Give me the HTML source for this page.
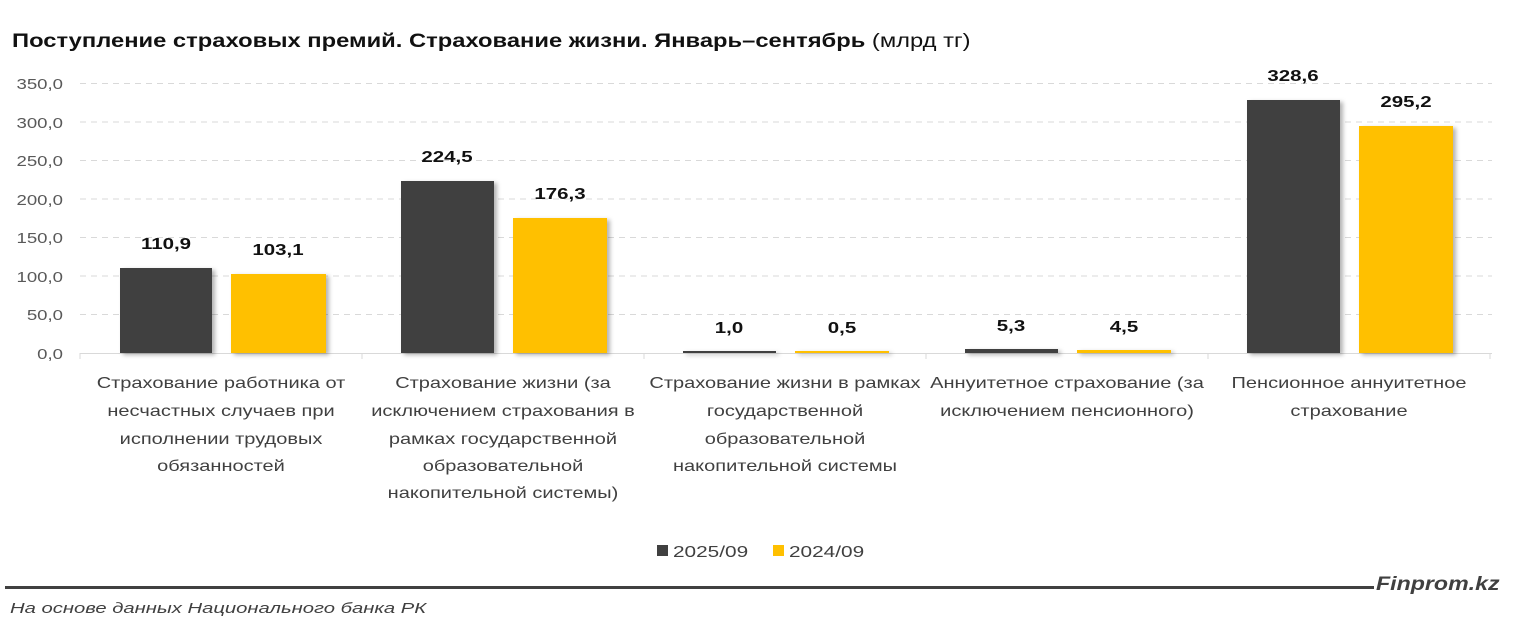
<!DOCTYPE html>
<html><head><meta charset="utf-8"><style>
body{margin:0;width:1515px;height:632px;background:#fff;overflow:hidden;font-family:"Liberation Sans",sans-serif}
svg text{font-family:"Liberation Sans",sans-serif}
</style></head><body>
<svg width="1515" height="632" xmlns="http://www.w3.org/2000/svg">
<defs><filter id="sh" x="-10%" y="-10%" width="130%" height="130%"><feDropShadow dx="3" dy="2" stdDeviation="2" flood-color="#000" flood-opacity="0.3"/></filter></defs>
<g transform="translate(12 0) scale(1.25 1)"><text x="0" y="47" font-size="19" font-weight="bold" fill="#111">Поступление страховых премий. Страхование жизни. Январь–сентябрь <tspan font-weight="normal">(млрд тг)</tspan></text></g>
<g stroke="#d9d9d9" stroke-width="1" stroke-dasharray="6,5">
<line x1="80" x2="1492" y1="83.5" y2="83.5"/><line x1="80" x2="1492" y1="122" y2="122"/><line x1="80" x2="1492" y1="160.5" y2="160.5"/><line x1="80" x2="1492" y1="199" y2="199"/><line x1="80" x2="1492" y1="237.5" y2="237.5"/><line x1="80" x2="1492" y1="276" y2="276"/><line x1="80" x2="1492" y1="314.5" y2="314.5"/>
</g>
<line x1="80" x2="1492" y1="353.5" y2="353.5" stroke="#d9d9d9"/>
<g stroke="#d9d9d9"><line x1="80" x2="80" y1="353" y2="359"/><line x1="362" x2="362" y1="353" y2="359"/><line x1="644" x2="644" y1="353" y2="359"/><line x1="926" x2="926" y1="353" y2="359"/><line x1="1208" x2="1208" y1="353" y2="359"/><line x1="1490" x2="1490" y1="353" y2="359"/></g>
<g transform="translate(63 0) scale(1.24 1)" font-size="15" fill="#595959" text-anchor="end">
<text x="0" y="89">350,0</text><text x="0" y="128">300,0</text><text x="0" y="166">250,0</text><text x="0" y="205">200,0</text><text x="0" y="243">150,0</text><text x="0" y="282">100,0</text><text x="0" y="320">50,0</text><text x="0" y="359">0,0</text>
</g>
<g filter="url(#sh)">
<rect x="120" y="268" width="92" height="85" fill="#404040"/><rect x="231" y="274" width="95" height="79" fill="#ffc000"/>
<rect x="401" y="181" width="93" height="172" fill="#404040"/><rect x="513" y="218" width="94" height="135" fill="#ffc000"/>
<rect x="683" y="351" width="93" height="2" fill="#404040"/><rect x="795" y="351" width="94" height="2" fill="#ffc000"/>
<rect x="965" y="349" width="93" height="4" fill="#404040"/><rect x="1077" y="350" width="94" height="3" fill="#ffc000"/>
<rect x="1247" y="100" width="93" height="253" fill="#404040"/><rect x="1359" y="126" width="94" height="227" fill="#ffc000"/>
</g>
<g font-size="16" font-weight="bold" fill="#111" text-anchor="middle">
<g transform="translate(166 0) scale(1.28 1)"><text x="0" y="249">110,9</text></g>
<g transform="translate(278 0) scale(1.28 1)"><text x="0" y="255">103,1</text></g>
<g transform="translate(447 0) scale(1.28 1)"><text x="0" y="162">224,5</text></g>
<g transform="translate(560 0) scale(1.28 1)"><text x="0" y="199">176,3</text></g>
<g transform="translate(729 0) scale(1.28 1)"><text x="0" y="333">1,0</text></g>
<g transform="translate(842 0) scale(1.28 1)"><text x="0" y="333">0,5</text></g>
<g transform="translate(1011 0) scale(1.28 1)"><text x="0" y="331">5,3</text></g>
<g transform="translate(1124 0) scale(1.28 1)"><text x="0" y="332">4,5</text></g>
<g transform="translate(1293 0) scale(1.28 1)"><text x="0" y="81">328,6</text></g>
<g transform="translate(1406 0) scale(1.28 1)"><text x="0" y="107">295,2</text></g>
</g>
<g font-size="16" fill="#404040" text-anchor="middle">
<g transform="translate(221 0) scale(1.25 1)"><text x="0" y="388">Страхование работника от</text><text x="0" y="416">несчастных случаев при</text><text x="0" y="444">исполнении трудовых</text><text x="0" y="471">обязанностей</text></g>
<g transform="translate(503 0) scale(1.25 1)"><text x="0" y="388">Страхование жизни (за</text><text x="0" y="416">исключением страхования в</text><text x="0" y="444">рамках государственной</text><text x="0" y="471">образовательной</text><text x="0" y="498">накопительной системы)</text></g>
<g transform="translate(785 0) scale(1.25 1)"><text x="0" y="388">Страхование жизни в рамках</text><text x="0" y="416">государственной</text><text x="0" y="444">образовательной</text><text x="0" y="471">накопительной системы</text></g>
<g transform="translate(1067 0) scale(1.25 1)"><text x="0" y="388">Аннуитетное страхование (за</text><text x="0" y="416">исключением пенсионного)</text></g>
<g transform="translate(1349 0) scale(1.25 1)"><text x="0" y="388">Пенсионное аннуитетное</text><text x="0" y="416">страхование</text></g>
</g>
<rect x="657" y="545" width="11" height="11" fill="#404040"/><g transform="translate(673 0) scale(1.3 1)"><text x="0" y="557" font-size="16" fill="#404040">2025/09</text></g>
<rect x="773" y="545" width="11" height="11" fill="#ffc000"/><g transform="translate(789 0) scale(1.3 1)"><text x="0" y="557" font-size="16" fill="#404040">2024/09</text></g>
<line x1="5" x2="1374" y1="587.5" y2="587.5" stroke="#404040" stroke-width="3"/>
<g transform="translate(1376 0) scale(1.22 1)"><text x="0" y="590" font-size="19" font-weight="bold" font-style="italic" fill="#404040">Finprom.kz</text></g>
<g transform="translate(10 0) scale(1.35 1)"><text x="0" y="613" font-size="15" font-style="italic" fill="#404040">На основе данных Национального банка РК</text></g>
</svg>
</body></html>
